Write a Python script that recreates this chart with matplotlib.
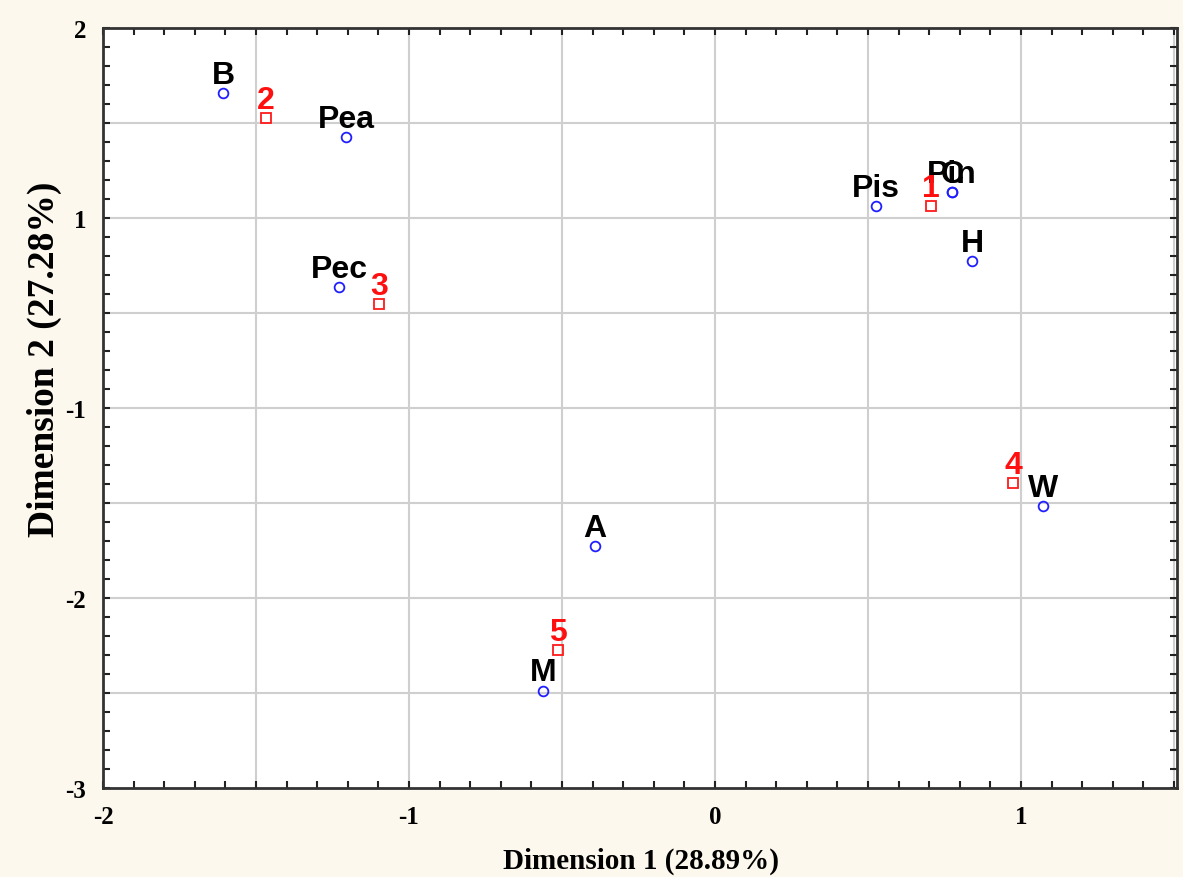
import matplotlib
matplotlib.use("Agg")
import matplotlib.pyplot as plt
from matplotlib.ticker import MultipleLocator

# Correspondence analysis coordinates
products = ["B", "Pea", "Pec", "Pis", "Pin", "C", "H", "W", "A", "M"]
prod_x = [-1.608, -1.206, -1.229, 0.526, 0.775, 0.775, 0.840, 1.072, -0.392, -0.562]
prod_y = [1.658, 1.426, 0.637, 1.063, 1.137, 1.137, 0.774, -0.516, -0.726, -1.489]

groups = ["1", "2", "3", "4", "5"]
group_x = [0.706, -1.467, -1.098, 0.974, -0.513]
group_y = [1.063, 1.526, 0.547, -0.395, -1.274]

yticks = [2, 1, 0, -1, -2]
ytick_labels = ["2", "1", "-1", "-2", "-3"]
xticks = [-2, -1, 0, 1]
xtick_labels = ["-2", "-1", "0", "1"]

bg = "#fdf8ee"
fig = plt.figure(figsize=(11.83, 8.78), dpi=100, facecolor=bg)
ax = fig.add_axes([103 / 1183, 1 - 789 / 878, (1177 - 103) / 1183, (789 - 29) / 878])
ax.set_facecolor("white")

ax.set_xlim(-2, 1.51)
ax.set_ylim(-2, 2)

# grid every half unit, ticks every 0.1
ax.xaxis.set_minor_locator(MultipleLocator(0.1))
ax.yaxis.set_minor_locator(MultipleLocator(0.1))
for v in [-1.5, -1, -0.5, 0, 0.5, 1, 1.5]:
    ax.axvline(v, color="#cfcfcf", lw=1.5, zorder=0)
    ax.axhline(v, color="#cfcfcf", lw=1.5, zorder=0)

ax.plot(prod_x, prod_y, "o", ls="none", ms=7, mfc="none", mec="#1f1fff", mew=1.3, zorder=3)
ax.plot(group_x, group_y, "s", ls="none", ms=7, mfc="none", mec="#ff1a1a", mew=1.3, zorder=3)

for name, x, y in zip(products, prod_x, prod_y):
    ax.annotate(name, (x, y), xytext=(0, 7.5), textcoords="offset points",
                ha="center", va="baseline", fontsize=23, fontweight="bold",
                family="Liberation Sans", color="black", zorder=4)
for name, x, y in zip(groups, group_x, group_y):
    ax.annotate(name, (x, y), xytext=(0, 7.5), textcoords="offset points",
                ha="center", va="baseline", fontsize=23, fontweight="bold",
                family="Liberation Sans", color="#ff1010", zorder=5)

ax.set_xticks(xticks)
ax.set_xticklabels(xtick_labels)
ax.set_yticks(yticks)
ax.set_yticklabels(ytick_labels)
ax.tick_params(which="both", direction="in", top=True, right=True,
               length=5, width=1.5, color="#222222")
ax.tick_params(which="major", labelsize=18, pad=12)
for lab in ax.get_xticklabels() + ax.get_yticklabels():
    lab.set_family("Liberation Serif")
    lab.set_fontweight("bold")

for sp in ax.spines.values():
    sp.set_color("#333333")
    sp.set_linewidth(2)

fig.text(641 / 1183, 1 - 861 / 878, "Dimension 1 (28.89%)", ha="center", va="center",
         fontsize=21, fontweight="bold", family="Liberation Serif")
fig.text(44 / 1183, 1 - 359 / 878, "Dimension 2 (27.28%)", ha="center", va="center",
         rotation=90, fontsize=27, fontweight="bold", family="Liberation Serif")

fig.savefig("out.png", dpi=100, facecolor=bg)
